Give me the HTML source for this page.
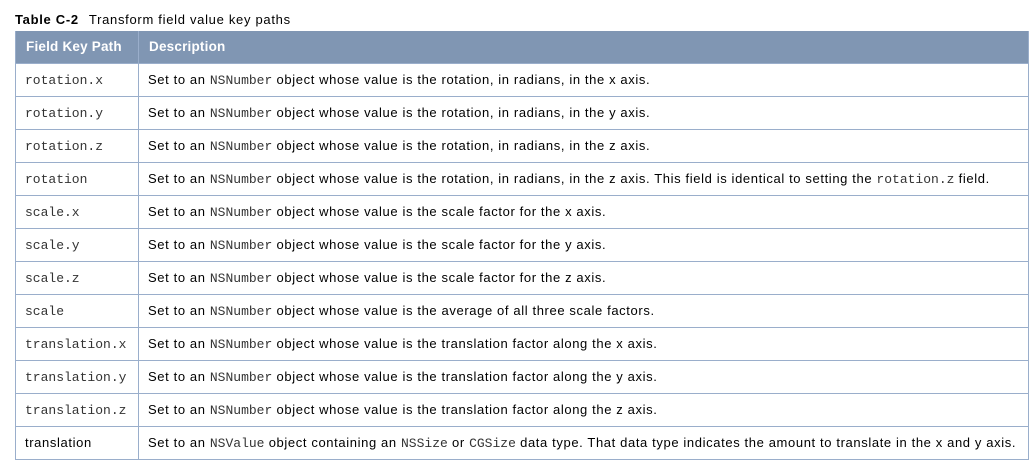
<!DOCTYPE html>
<html><head><style>
body{margin:0;width:1035px;height:464px;background:#fff;font-family:"Liberation Sans",sans-serif;position:relative;overflow:hidden;color:#000}
.t{position:absolute;left:15px;top:12px;font-size:13px;letter-spacing:0.7px}
.t b{margin-right:6px}
table{position:absolute;left:15px;top:31px;border-collapse:collapse;width:1014px;font-size:13px;letter-spacing:0.62px}
th{background:#8096b3;color:#fff;text-align:left;height:32px;padding:0 0 0 10px;font-size:13.5px;letter-spacing:0.2px;border:1px solid #9aaecb;border-top:none;box-sizing:border-box}
td{height:33px;padding:0 0 0 9px;border:1px solid #9aaecb;box-sizing:border-box;white-space:nowrap}
td:first-child{width:123px}
code{font-family:"Liberation Mono",monospace;font-size:13px;letter-spacing:0;color:#333}
</style></head><body>
<div class="t"><b>Table C-2</b> Transform field value key paths</div>
<table>
<tr><th>Field Key Path</th><th>Description</th></tr>
<tr><td><code>rotation.x</code></td><td>Set to an <code>NSNumber</code> object whose value is the rotation, in radians, in the x axis.</td></tr>
<tr><td><code>rotation.y</code></td><td>Set to an <code>NSNumber</code> object whose value is the rotation, in radians, in the y axis.</td></tr>
<tr><td><code>rotation.z</code></td><td>Set to an <code>NSNumber</code> object whose value is the rotation, in radians, in the z axis.</td></tr>
<tr><td><code>rotation</code></td><td>Set to an <code>NSNumber</code> object whose value is the rotation, in radians, in the z axis. This field is identical to setting the <code>rotation.z</code> field.</td></tr>
<tr><td><code>scale.x</code></td><td>Set to an <code>NSNumber</code> object whose value is the scale factor for the x axis.</td></tr>
<tr><td><code>scale.y</code></td><td>Set to an <code>NSNumber</code> object whose value is the scale factor for the y axis.</td></tr>
<tr><td><code>scale.z</code></td><td>Set to an <code>NSNumber</code> object whose value is the scale factor for the z axis.</td></tr>
<tr><td><code>scale</code></td><td>Set to an <code>NSNumber</code> object whose value is the average of all three scale factors.</td></tr>
<tr><td><code>translation.x</code></td><td>Set to an <code>NSNumber</code> object whose value is the translation factor along the x axis.</td></tr>
<tr><td><code>translation.y</code></td><td>Set to an <code>NSNumber</code> object whose value is the translation factor along the y axis.</td></tr>
<tr><td><code>translation.z</code></td><td>Set to an <code>NSNumber</code> object whose value is the translation factor along the z axis.</td></tr>
<tr><td>translation</td><td>Set to an <code>NSValue</code> object containing an <code>NSSize</code> or <code>CGSize</code> data type. That data type indicates the amount to translate in the x and y axis.</td></tr>
</table>
</body></html>
